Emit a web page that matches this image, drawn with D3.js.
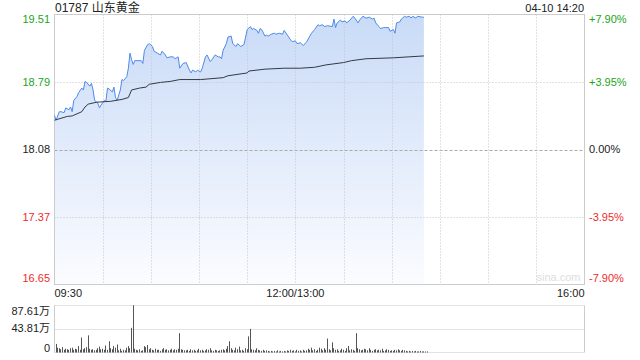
<!DOCTYPE html>
<html><head><meta charset="utf-8">
<script src="https://cdn.jsdelivr.net/npm/d3@7"></script>
<style>
html,body{margin:0;padding:0;background:#fff;}
svg text{font-family:Arial,"Liberation Sans","Noto Sans CJK SC",sans-serif;}
</style></head>
<body>
<svg id="c" width="640" height="360"></svg>
<script>
// ---------- data ----------
const title = "01787 山东黄金";
const stamp = "04-10 14:20";
const prevClose = 18.08;
const pctRange = 0.079;
const timeLabels = ["09:30", "12:00/13:00", "16:00"];
const timeLabelMinutes = [0, 150, 330];
const totalMinutes = 330;
const volTickLabels = ["87.61万", "43.81万", "0"];
const volTickValues = [87.61, 43.81, 0];

// price line (minute index from 09:30, price)
const priceMinutes = [0,1,3,4,6,7,9,10,11,12,14,15,17,18,19,20,22,23,24,25,27,28,29,31,32,33,34,36,37,38,39,41,42,43,45,46,47,48,49,50,52,54,55,56,58,59,61,62,64,66,67,69,70,72,74,75,77,78,80,82,84,85,86,88,89,91,92,94,95,97,98,100,102,103,104,105,107,108,110,111,113,114,116,118,119,120,122,123,124,126,127,128,129,131,132,133,135,137,138,140,142,143,145,147,148,150,151,153,155,157,160,162,164,165,167,168,170,173,174,175,176,178,179,181,182,184,186,187,189,190,192,194,196,198,199,200,202,203,205,206,208,209,211,212,213,215,216,218,219,221,222,223,225,226,229,230];
const prices = [18.44,18.39,18.48,18.48,18.47,18.52,18.50,18.53,18.48,18.60,18.64,18.68,18.73,18.71,18.80,18.79,18.75,18.78,18.71,18.60,18.57,18.52,18.55,18.60,18.59,18.73,18.72,18.69,18.74,18.63,18.60,18.71,18.82,18.81,18.85,18.94,19.10,19.03,18.98,19.02,19.02,19.02,18.99,19.13,19.19,19.20,19.17,19.12,19.10,19.08,19.12,19.08,19.05,19.06,19.06,19.04,19.06,18.94,18.99,19.00,18.92,18.89,18.92,18.90,18.92,18.90,18.94,19.06,19.08,19.01,19.03,19.08,19.06,19.06,19.04,19.13,19.20,19.27,19.28,19.20,19.17,19.20,19.17,19.19,19.27,19.35,19.38,19.35,19.36,19.34,19.31,19.36,19.35,19.28,19.29,19.28,19.30,19.31,19.30,19.31,19.30,19.34,19.29,19.24,19.22,19.23,19.20,19.21,19.18,19.22,19.31,19.35,19.40,19.39,19.40,19.38,19.39,19.38,19.46,19.37,19.42,19.45,19.43,19.44,19.42,19.45,19.49,19.47,19.42,19.45,19.49,19.47,19.48,19.46,19.47,19.42,19.38,19.36,19.37,19.37,19.37,19.33,19.35,19.31,19.42,19.43,19.46,19.49,19.48,19.49,19.47,19.49,19.47,19.49,19.48,19.48];

// average price line
const avgMinutes = [0,8,11,17,19,21,26,35,42,46,48,53,57,59,66,72,78,91,105,108,120,121,131,143,153,162,169,180,185,194,211,230];
const avgPrices = [18.39,18.43,18.435,18.48,18.53,18.56,18.58,18.59,18.61,18.63,18.71,18.73,18.74,18.77,18.79,18.80,18.82,18.82,18.84,18.86,18.89,18.91,18.93,18.94,18.94,18.95,18.975,19.00,19.02,19.04,19.05,19.07];

// volume per minute (万)
const volumes = [16,9,8,6,10,5,7,6,5,8,9,
5,7,6,12,5,28,6,8,10,32,
7,5,6,4,5,8,11,6,7,5,
13,5,21,8,6,12,9,15,4,7,
3,5,4,9,12,8,46,88,7,5,
4,6,3,4,12,10,14,6,8,5,
4,7,5,5,3,6,8,5,6,4,
5,7,4,6,5,7,36,6,5,4,
4,5,3,6,4,5,3,4,7,4,
5,3,4,6,5,8,4,3,5,4,
3,4,5,6,4,7,12,21,8,5,
4,9,6,11,4,5,3,8,6,30,
44,6,5,4,8,5,4,3,5,3,
4,3,2,3,2,3,2,4,2,3,
2,3,2,4,3,5,3,4,2,5,
3,4,2,5,3,4,7,5,9,4,
6,3,5,9,7,4,8,5,26,6,
4,19,8,5,6,3,4,7,5,3,
8,12,4,6,5,3,36,8,6,4,
5,7,6,4,8,5,3,5,6,4,
5,4,7,3,4,6,5,3,4,3,
5,4,6,4,3,5,4,3,2,3,
2,3,2,3,2,2,3,2,2,2,2];

// ---------- drawing ----------
const svg = d3.select("#c");
const L = 54.5, R = 584.5, T = 14.5, B = 284.5;
const VT = 305.5, VB = 352.5;
const green = "#1aa51a", red = "#ee2b2b", grid = "#c4c4c4";

const x = d3.scaleLinear().domain([0, totalMinutes]).range([L, R]);
const y = d3.scaleLinear().domain([prevClose*(1-pctRange), prevClose*(1+pctRange)]).range([B, T]);
const yv = d3.scaleLinear().domain([0, 87.61]).range([VB, VT]);

const defs = svg.append("defs");
const grad = defs.append("linearGradient").attr("id","g").attr("x1",0).attr("y1",0).attr("x2",0).attr("y2",1);
grad.append("stop").attr("offset","0%").attr("stop-color","#c9dbf7");
grad.append("stop").attr("offset","100%").attr("stop-color","#fbfcff");

// area fill
const pts = priceMinutes.map((m,i)=>[m, prices[i]]);
svg.append("path").datum(pts)
  .attr("d", d3.area().x(d=>x(d[0])).y0(B).y1(d=>y(d[1])))
  .attr("fill","url(#g)");

// grid lines
const pctTicks = [-2,-1,0,1,2].map(k=>prevClose*(1+k*pctRange/2));
svg.append("g").selectAll("line").data(pctTicks.slice(1,4)).join("line")
  .attr("x1",L).attr("x2",R).attr("y1",d=>Math.round(y(d))+0.5).attr("y2",d=>Math.round(y(d))+0.5)
  .attr("stroke",(d,i)=>i===1?"#aaa":grid).attr("stroke-dasharray",(d,i)=>i===1?"3,2":"1,2");
const vTicks = d3.range(30, totalMinutes, 30);
svg.append("g").selectAll("line").data(vTicks).join("line")
  .attr("x1",d=>Math.round(x(d))+0.5).attr("x2",d=>Math.round(x(d))+0.5).attr("y1",T).attr("y2",B)
  .attr("stroke",grid).attr("stroke-dasharray","1,2");

// frame
svg.append("rect").attr("x",L).attr("y",T).attr("width",R-L).attr("height",B-T)
  .attr("fill","none").attr("stroke","#cccccc");

// watermark
svg.append("text").attr("x",R-4).attr("y",B-4).attr("text-anchor","end")
  .attr("font-size",11).attr("fill","#dddddd").text("sina.com");

// lines
svg.append("path").datum(pts)
  .attr("d", d3.line().x(d=>x(d[0])).y(d=>y(d[1])))
  .attr("fill","none").attr("stroke","#4e8ae9").attr("stroke-width",1);
svg.append("path").datum(avgMinutes.map((m,i)=>[m, avgPrices[i]]))
  .attr("d", d3.line().x(d=>x(d[0])).y(d=>y(d[1])))
  .attr("fill","none").attr("stroke","#333a44").attr("stroke-width",1);

// left/right labels
const labColor = (i)=> i<2 ? red : (i===2 ? "#222" : green);
const labDy = (i)=> i===0 ? -6 : (i===4 ? 5 : 0);
svg.append("g").selectAll("text").data(pctTicks).join("text")
  .attr("x",50).attr("y",(d,i)=>y(d)+labDy(i)).attr("dy","0.35em")
  .attr("text-anchor","end").attr("font-size",11).attr("fill",(d,i)=>labColor(i))
  .text(d=>d.toFixed(2));
svg.append("g").selectAll("text").data(pctTicks).join("text")
  .attr("x",589).attr("y",(d,i)=>y(d)+labDy(i)).attr("dy","0.35em")
  .attr("text-anchor","start").attr("font-size",11).attr("fill",(d,i)=>labColor(i))
  .text(d=>{const p=(d/prevClose-1)*100; return (p>0.001?"+":"")+p.toFixed(2)+"%";});

// title & stamp
svg.append("text").attr("x",55).attr("y",12).attr("font-size",12).attr("fill","#222").text(title);
svg.append("text").attr("x",584).attr("y",12).attr("text-anchor","end").attr("font-size",11).attr("fill","#222").text(stamp);

// time labels
svg.append("g").selectAll("text").data(timeLabels).join("text")
  .attr("x",(d,i)=>x(timeLabelMinutes[i])).attr("y",293).attr("dy","0.35em")
  .attr("text-anchor",(d,i)=>i===0?"start":(i===2?"end":"middle"))
  .attr("font-size",11).attr("fill","#222").text(d=>d);

// volume panel
svg.append("line").attr("x1",L).attr("x2",R).attr("y1",VT).attr("y2",VT).attr("stroke",grid).attr("stroke-dasharray","1,1");
svg.append("line").attr("x1",L).attr("x2",R).attr("y1",Math.round(yv(43.81))+0.5).attr("y2",Math.round(yv(43.81))+0.5).attr("stroke",grid).attr("stroke-dasharray","1,1");
svg.append("line").attr("x1",L).attr("x2",R).attr("y1",VB).attr("y2",VB).attr("stroke",grid).attr("stroke-dasharray","1,1");
svg.append("line").attr("x1",L).attr("x2",L).attr("y1",VT).attr("y2",VB).attr("stroke","#cccccc");
svg.append("line").attr("x1",R).attr("x2",R).attr("y1",VT).attr("y2",VB).attr("stroke","#cccccc");
svg.append("g").selectAll("rect").data(volumes).join("rect")
  .attr("x",(d,i)=>Math.round(x(i))+1).attr("width",1)
  .attr("y",d=>yv(d)).attr("height",d=>VB-yv(d))
  .attr("fill","#555");
const vDy = [6, -1, -4];
svg.append("g").selectAll("text").data(volTickLabels).join("text")
  .attr("x",50).attr("y",(d,i)=>yv(volTickValues[i])+vDy[i]).attr("dy","0.35em")
  .attr("text-anchor","end").attr("font-size",11).attr("fill","#222").text(d=>d);
</script>
</body></html>
